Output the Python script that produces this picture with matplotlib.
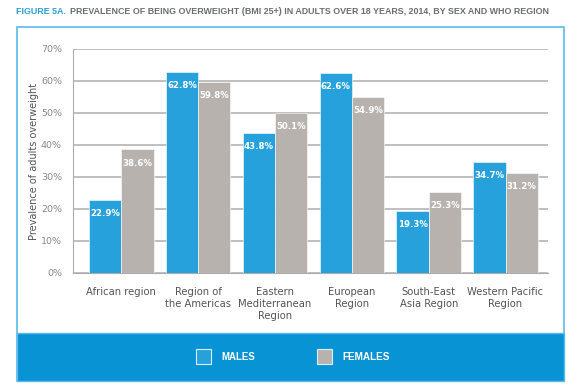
import matplotlib
matplotlib.use("Agg")
import matplotlib.pyplot as plt
from matplotlib.patches import Rectangle
import numpy as np

regions = ["African region", "Region of\nthe Americas", "Eastern\nMediterranean\nRegion",
           "European\nRegion", "South-East\nAsia Region", "Western Pacific\nRegion"]
males = [22.9, 62.8, 43.8, 62.6, 19.3, 34.7]
females = [38.6, 59.8, 50.1, 54.9, 25.3, 31.2]
yticks = [0, 10, 20, 30, 40, 50, 60, 70]
series_names = ["MALES", "FEMALES"]

BLUE = "#26a1dc"
GREY = "#b7b2ae"
BAND = "#0893d5"
FRAME = "#5cb9ea"

COND = ["Liberation Sans Narrow", "Liberation Sans", "DejaVu Sans"]

W, H = 580, 385
fig = plt.figure(figsize=(W / 100, H / 100), dpi=100)
renderer = fig.canvas.get_renderer()

def fx(px):
    return px / W

def fy(py):
    return 1 - py / H

def fit_text(t, target_px):
    ext = t.get_window_extent(renderer=renderer)
    if ext.width > 0:
        t.set_fontsize(t.get_fontsize() * target_px / ext.width)

# frame and band
fig.patches.append(Rectangle((fx(17), fy(381)), fx(564) - fx(17), fy(27) - fy(381),
                             transform=fig.transFigure, facecolor="white",
                             edgecolor=FRAME, linewidth=1.2, zorder=-3))
fig.patches.append(Rectangle((fx(17), fy(381)), fx(564) - fx(17), fy(333) - fy(381),
                             transform=fig.transFigure, facecolor=BAND,
                             edgecolor=FRAME, linewidth=1.0, zorder=-2))

# title
t1 = fig.text(fx(16), fy(12), "FIGURE 5A.", color="#2a9fd8", fontsize=9, fontweight="bold",
              family=COND, va="center", ha="left")
t2 = fig.text(fx(70), fy(12), "PREVALENCE OF BEING OVERWEIGHT (BMI 25+) IN ADULTS OVER 18 YEARS, 2014, BY SEX AND WHO REGION",
              color="#6d6e71", fontsize=9, fontweight="bold", family=COND, va="center", ha="left")
fit_text(t1, 50)
fit_text(t2, 478)

ax = fig.add_axes([fx(73), fy(273), fx(548) - fx(73), fy(49) - fy(273)])
x = np.arange(len(regions))
bw = 0.42
b1 = ax.bar(x - bw / 2, males, bw, color=BLUE, edgecolor="white", linewidth=0.4, zorder=3)
b2 = ax.bar(x + bw / 2, females, bw, color=GREY, edgecolor="white", linewidth=0.4, zorder=3)

for bars, vals in ((b1, males), (b2, females)):
    for rect, v in zip(bars, vals):
        ax.annotate(f"{v:.1f}%", (rect.get_x() + rect.get_width() / 2, v),
                    xytext=(0, -9.8), textcoords="offset points",
                    ha="center", va="center", color="white", fontsize=6.2,
                    fontweight="bold", zorder=4)

ax.set_xlim(-0.63, 5.553)
ax.set_ylim(0, 70)
ax.set_yticks(yticks)
ax.set_yticklabels([f"{t}%" for t in yticks], fontsize=6.8, color="#888888")
ax.set_xticks(x)
ax.set_xticklabels(regions, fontsize=7.2, color="#555555", linespacing=1.25)
ax.tick_params(axis="y", length=0, pad=8)
ax.tick_params(axis="x", length=0, pad=10)
ax.yaxis.grid(True, color="#adadad", linewidth=1.1, zorder=0)
ax.set_axisbelow(True)
for s in ("top", "right"):
    ax.spines[s].set_visible(False)
ax.spines["left"].set_color("#adadad")
ax.spines["bottom"].set_color("#adadad")
ax.set_ylabel("Prevalence of adults overweight", fontsize=7, color="#555555", labelpad=1)
ax.patch.set_alpha(0)

# legend in band
for px, col, name, wpx in ((196, BLUE, series_names[0], 34), (317, GREY, series_names[1], 48)):
    fig.patches.append(Rectangle((fx(px), fy(364)), fx(15), fy(349) - fy(364),
                                 transform=fig.transFigure, facecolor=col,
                                 edgecolor="#d8eef9", linewidth=0.8, zorder=2))
    tl = fig.text(fx(px + 25), fy(357), name, color="white", fontsize=9.5, fontweight="bold",
                  family=COND, va="center", ha="left", zorder=3)
    fit_text(tl, wpx)

fig.savefig("out.png", dpi=100)
